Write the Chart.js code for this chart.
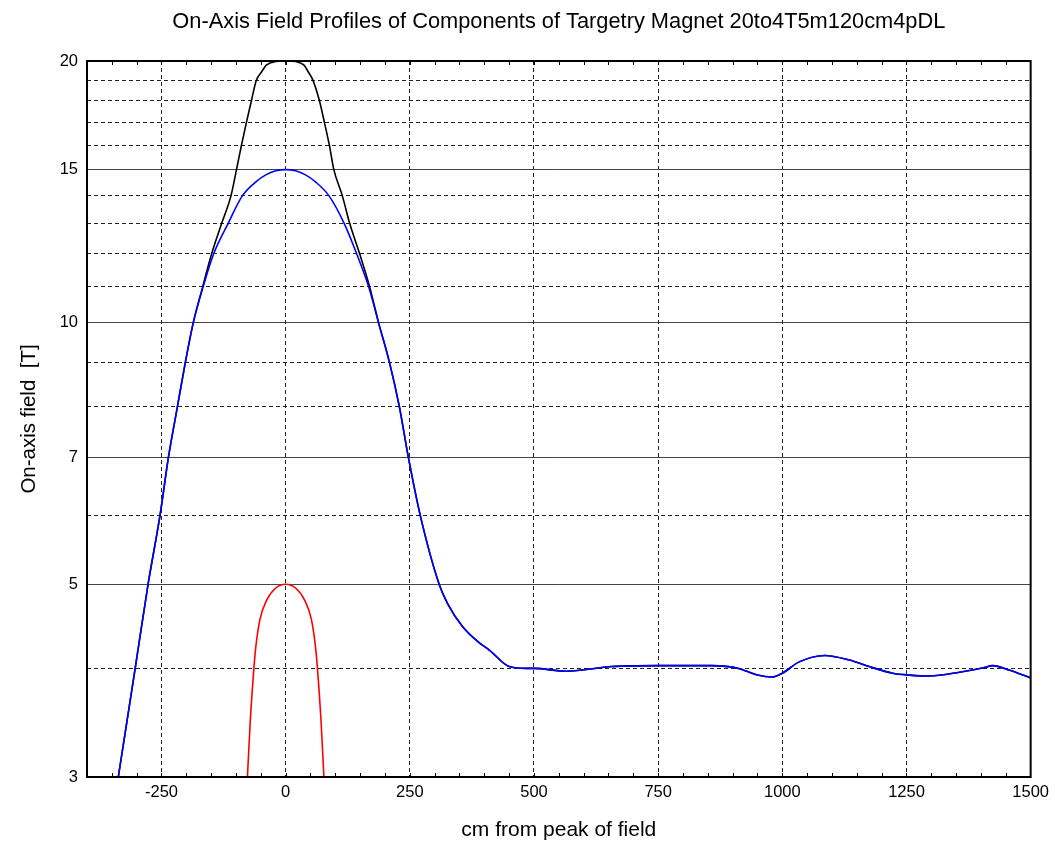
<!DOCTYPE html>
<html>
<head>
<meta charset="utf-8">
<script src="https://cdn.jsdelivr.net/npm/chart.js@4.4.1/dist/chart.umd.min.js"></script>
<style>
  body { margin: 0; background: #fff; }
  #wrap { width: 1055px; height: 843px; }
</style>
</head>
<body>
<div id="wrap"><canvas id="chart"></canvas></div>
<script>
// x positions in cm from peak, field in T
var totalX = [-337, -303, -277, -253, -236, -218, -202, -186, -167, -149, -129, -110, -99, -89, -79, -69, -59, -48, -39, -20, 0,
    20, 37, 45, 55, 68, 78, 88, 97, 114, 129, 149, 169, 187, 209, 229, 247, 271, 309, 326, 356, 390, 410, 450, 484, 500,
    565, 657, 750, 858, 912, 950, 979, 1000, 1034, 1085, 1135, 1175, 1222, 1256, 1296, 1357, 1407, 1423, 1458, 1500];
var totalY = [3.0, 4.0, 5.0, 6.0, 7.0, 8.0, 9.0, 10.0, 11.0, 12.0, 13.0, 14.0, 15.0, 16.0, 17.0, 18.0, 19.0, 19.45, 19.78, 19.97, 20.0,
    19.97, 19.78, 19.45, 19.0, 18.0, 17.0, 16.0, 15.0, 14.0, 13.0, 12.0, 11.0, 10.0, 9.0, 8.0, 7.0, 6.0, 5.0, 4.75, 4.47, 4.28, 4.20, 4.02, 4.0, 4.0,
    3.97, 4.02, 4.03, 4.03, 4.0, 3.93, 3.91, 3.95, 4.07, 4.14, 4.09, 4.02, 3.95, 3.93, 3.92, 3.96, 4.01, 4.03, 3.98, 3.90];

var mainX = [-337, -303, -277, -253, -236, -218, -202, -186, -166, -145, -116, -87, -60, -40, -20, 0,
    20, 40, 60, 87, 118, 143, 167, 187, 209, 229, 247, 271, 309, 326, 356, 390, 410, 450, 484, 500,
    565, 657, 750, 858, 912, 950, 979, 1000, 1034, 1085, 1135, 1175, 1222, 1256, 1296, 1357, 1407, 1423, 1458, 1500];
var mainY = [3.0, 4.0, 5.0, 6.0, 7.0, 8.0, 9.0, 10.0, 11.0, 12.0, 13.0, 14.0, 14.52, 14.79, 14.95, 15.0,
    14.95, 14.79, 14.52, 14.0, 13.0, 12.0, 11.0, 10.0, 9.0, 8.0, 7.0, 6.0, 5.0, 4.75, 4.47, 4.28, 4.20, 4.02, 4.0, 4.0,
    3.97, 4.02, 4.03, 4.03, 4.0, 3.93, 3.91, 3.95, 4.07, 4.14, 4.09, 4.02, 3.95, 3.93, 3.92, 3.96, 4.01, 4.03, 3.98, 3.90];

var insertX = [-77, -71, -64, -60, -52, -38.5, -20, 0, 20, 38.5, 52, 60, 64, 71, 77];
var insertY = [3.0, 3.5, 4.0, 4.24, 4.55, 4.79, 4.95, 5.0, 4.95, 4.79, 4.55, 4.24, 4.0, 3.5, 3.0];

var xTicks = [-250, 0, 250, 500, 750, 1000, 1250, 1500];
var yTicks = [3, 4, 5, 6, 7, 8, 9, 10, 11, 12, 13, 14, 15, 16, 17, 18, 19, 20];
var yLabels = [3, 5, 7, 10, 15, 20];

var FONT = 'Arial, "Liberation Sans", sans-serif';

function toPoints(xs, ys)
{
    var pts = [];
    for (var i = 0; i < xs.length; i++) {
        pts.push({x: xs[i], y: ys[i]});
    }
    return pts;
}

function lineSet(xs, ys, colour)
{
    return {
        data: toPoints(xs, ys),
        borderColor: colour,
        borderWidth: 1.6,
        pointRadius: 0,
        fill: false,
        cubicInterpolationMode: 'monotone'
    };
}

// black frame plus the small inward ticks every 50 cm
var framePlugin = {
    id: 'frame',
    afterDatasetsDraw: function(chart) {
        var ctx = chart.ctx;
        var a = chart.chartArea;
        var xs = chart.scales.x;
        ctx.save();
        ctx.strokeStyle = '#000';
        ctx.lineWidth = 1;
        ctx.beginPath();
        for (var v = -350; v < 1500; v += 50) {
            var px = Math.round(xs.getPixelForValue(v)) + 0.5;
            ctx.moveTo(px, a.bottom);
            ctx.lineTo(px, a.bottom - 4);
            ctx.moveTo(px, a.top);
            ctx.lineTo(px, a.top + 4);
        }
        ctx.stroke();
        ctx.lineWidth = 2;
        ctx.strokeRect(a.left, a.top, a.right - a.left, a.bottom - a.top);
        ctx.restore();
    }
};

var chart = new Chart(document.getElementById('chart'), {
    type: 'line',
    data: {
        datasets: [
            lineSet(mainX, mainY, '#0000ff'),
            lineSet(insertX, insertY, '#ff0000'),
            lineSet(totalX, totalY, '#000000')
        ]
    },
    options: {
        responsive: true,
        maintainAspectRatio: false,
        animation: false,
        layout: { padding: { left: 0, right: 24, top: 0, bottom: 0 } },
        plugins: {
            legend: { display: false },
            tooltip: { enabled: false },
            title: { display: false }
        },
        scales: {
            x: {
                type: 'linear',
                min: -400,
                max: 1500,
                afterBuildTicks: function(scale) {
                    scale.ticks = xTicks.map(function(v) { return {value: v}; });
                },
                afterFit: function(scale) { scale.height = 66; },
                ticks: {
                    autoSkip: false,
                    maxRotation: 0,
                    padding: 6,
                    color: '#000',
                    font: { family: FONT, size: 16.5 },
                    callback: function(v) { return String(v); }
                },
                grid: {
                    drawTicks: false,
                    color: '#222',
                    lineWidth: 1
                },
                border: { display: false, dash: [4, 3] },
                title: {
                    display: true,
                    text: 'cm from peak of field',
                    color: '#000',
                    font: { family: FONT, size: 21 },
                    padding: { top: 0, bottom: 0 }
                }
            },
            // top axis only carries the chart title, centred over the plot
            x2: {
                type: 'linear',
                position: 'top',
                min: -400,
                max: 1500,
                afterFit: function(scale) { scale.height = 61; },
                ticks: { display: false },
                grid: { display: false, drawTicks: false },
                border: { display: false },
                title: {
                    display: true,
                    text: 'On-Axis Field Profiles of Components of Targetry Magnet 20to4T5m120cm4pDL',
                    color: '#000',
                    font: { family: FONT, size: 21.8 },
                    padding: { top: 9, bottom: 0 }
                }
            },
            y: {
                type: 'logarithmic',
                min: 3,
                max: 20,
                afterBuildTicks: function(scale) {
                    scale.ticks = yTicks.map(function(v) { return {value: v}; });
                },
                afterFit: function(scale) { scale.width = 87; },
                ticks: {
                    autoSkip: false,
                    padding: 9,
                    color: '#000',
                    font: { family: FONT, size: 16.5 },
                    callback: function(v) {
                        return yLabels.includes(v) ? String(v) : '';
                    }
                },
                grid: {
                    drawTicks: false,
                    lineWidth: 1,
                    color: function(c) {
                        if (c.tick && yLabels.includes(c.tick.value)) {
                            return '#444';
                        }
                        return '#222';
                    }
                },
                border: {
                    display: false,
                    dash: function(c) {
                        if (c.tick && !yLabels.includes(c.tick.value)) {
                            return [4, 3];
                        }
                        return [];
                    }
                },
                title: {
                    display: true,
                    text: 'On-axis field  [T]',
                    color: '#000',
                    font: { family: FONT, size: 20.5 },
                    padding: { top: 17.5, bottom: 0 }
                }
            }
        }
    },
    plugins: [framePlugin]
});
</script>
</body>
</html>
